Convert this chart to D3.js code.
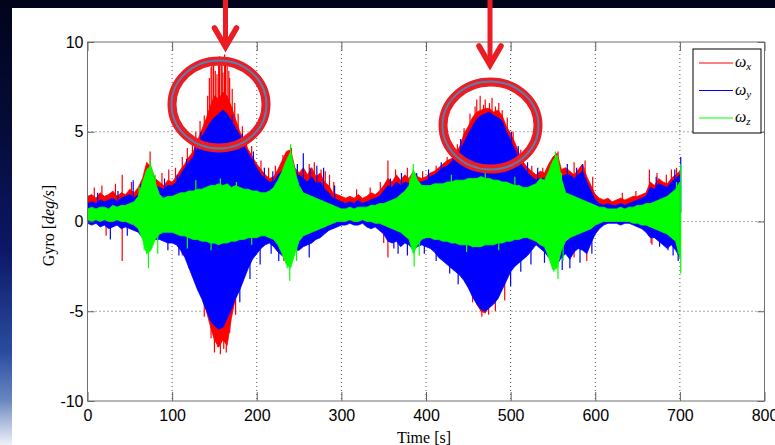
<!DOCTYPE html>
<html>
<head>
<meta charset="utf-8">
<script src="https://cdn.jsdelivr.net/npm/d3@7"></script>
<style>
  body { margin: 0; background: #fff; }
  svg { display: block; }
  .tick text { font-family: "Liberation Sans", Arial, sans-serif; font-size: 16px; fill: #000; }
  .tick line { stroke: #606060; }
</style>
</head>
<body>
<svg id="chart" width="775" height="445"></svg>
<script>
// envelope of each gyro channel, sampled every 5 s from t = 0 to 700 s (deg/s)
const sampleStep = 5;

const wxHigh = [
  1.4, 1.5, 1.3, 1.6, 1.4, 1.5, 1.7, 1.4, 1.6, 1.5,
  1.8, 1.6, 1.9, 2.4, 3.3, 3.0, 2.4, 2.2, 2.0, 2.3,
  2.2, 2.5, 2.9, 3.2, 3.6, 3.9, 4.5, 5.1, 5.7, 6.4,
  7.0, 6.8, 7.2, 7.0, 6.4, 5.7, 5.0, 4.5, 4.0, 3.6,
  3.2, 2.9, 2.6, 2.4, 2.5, 2.9, 3.4, 3.9, 4.0, 3.0,
  2.7, 3.0, 2.6, 3.0, 2.5, 2.7, 2.2, 2.0, 1.6, 1.5,
  1.4, 1.3, 1.4, 1.3, 1.5, 1.3, 1.4, 1.6, 1.5, 1.7,
  2.0, 2.4, 2.2, 2.6, 2.3, 2.6, 2.4, 2.8, 2.5, 2.4,
  2.5, 2.7, 2.8, 3.0, 3.2, 3.4, 3.5, 3.8, 4.2, 4.9,
  5.3, 5.8, 6.1, 6.2, 6.3, 6.3, 6.1, 6.2, 5.9, 5.3,
  4.9, 4.4, 3.8, 3.3, 3.0, 2.8, 2.6, 2.8, 2.7, 3.2,
  3.6, 3.8, 2.9, 3.0, 2.8, 2.6, 2.9, 3.2, 2.5, 2.0,
  1.5, 1.3, 1.2, 1.3, 1.1, 1.2, 1.3, 1.2, 1.3, 1.4,
  1.4, 1.5, 1.6, 2.2, 2.0, 2.4, 2.2, 2.1, 2.4, 2.6,
  2.8
];
const wxLow = [
  0.0, -0.1, 0.0, -0.2, -0.1, -0.3, -0.2, -0.1, -0.3, -0.2,
  -0.3, -0.4, -0.5, -0.8, -1.1, -1.0, -0.9, -0.9, -1.0, -1.0,
  -1.1, -1.2, -1.4, -1.8, -2.4, -3.0, -3.6, -4.2, -4.9, -5.8,
  -6.6, -7.0, -6.6, -6.9, -5.4, -4.2, -3.6, -3.0, -2.4, -1.9,
  -1.6, -1.3, -1.2, -1.1, -1.2, -1.5, -1.7, -1.9, -1.6, -1.4,
  -1.4, -1.2, -1.1, -1.0, -0.9, -0.8, -0.6, -0.4, -0.3, -0.2,
  -0.1, -0.1, 0.0, -0.1, -0.1, 0.0, -0.2, -0.3, -0.2, -0.4,
  -0.6, -1.0, -1.1, -1.0, -1.2, -1.1, -1.2, -1.4, -1.2, -1.2,
  -1.3, -1.4, -1.6, -1.8, -2.0, -2.2, -2.4, -2.6, -2.8, -3.1,
  -3.5, -4.0, -4.6, -5.0, -5.1, -4.7, -4.4, -4.1, -3.6, -3.1,
  -2.6, -2.3, -2.1, -1.9, -1.7, -1.5, -1.2, -1.4, -1.6, -1.8,
  -2.0, -2.2, -1.8, -1.7, -1.9, -1.6, -1.4, -1.5, -1.7, -1.1,
  -0.6, -0.3, -0.1, 0.0, 0.0, 0.0, -0.1, 0.0, 0.0, -0.1,
  -0.2, -0.3, -0.5, -0.8, -0.8, -1.0, -1.1, -1.3, -1.2, -1.4,
  -1.8
];
const wyHigh = [
  1.0, 1.1, 1.0, 1.2, 1.1, 1.2, 1.3, 1.1, 1.3, 1.4,
  1.5, 1.3, 1.5, 2.0, 2.6, 2.4, 2.0, 1.9, 1.8, 2.0,
  2.0, 2.2, 2.6, 3.0, 3.3, 3.6, 4.1, 4.7, 5.1, 5.5,
  5.8, 6.0, 6.2, 6.0, 5.6, 5.2, 4.8, 4.2, 3.8, 3.4,
  3.0, 2.6, 2.4, 2.2, 2.2, 2.6, 2.8, 3.0, 2.8, 2.4,
  2.6, 2.4, 2.2, 2.5, 2.1, 2.2, 1.8, 1.6, 1.3, 1.2,
  1.1, 1.0, 1.1, 1.0, 1.2, 1.0, 1.1, 1.2, 1.3, 1.4,
  1.7, 2.0, 1.9, 2.2, 2.0, 2.2, 2.1, 2.4, 2.2, 2.2,
  2.3, 2.5, 2.6, 2.8, 3.0, 3.1, 3.3, 3.6, 3.9, 4.4,
  4.9, 5.3, 5.7, 5.9, 6.0, 6.1, 5.9, 5.8, 5.6, 5.0,
  4.5, 4.0, 3.4, 3.0, 2.7, 2.5, 2.3, 2.4, 2.4, 2.6,
  2.8, 2.9, 2.5, 2.6, 2.6, 2.4, 2.6, 2.8, 2.2, 1.7,
  1.2, 1.0, 0.9, 1.0, 0.9, 0.9, 1.0, 0.9, 1.0, 1.1,
  1.2, 1.3, 1.4, 1.9, 1.8, 2.1, 2.0, 1.9, 2.2, 2.4,
  2.6
];
const wyLow = [
  -0.1, -0.2, -0.1, -0.3, -0.2, -0.4, -0.3, -0.2, -0.4, -0.3,
  -0.4, -0.5, -0.6, -0.9, -1.3, -1.2, -1.0, -1.0, -1.1, -1.2,
  -1.2, -1.3, -1.6, -2.0, -2.6, -3.2, -3.8, -4.3, -4.9, -5.5,
  -5.8, -6.0, -5.9, -5.4, -4.9, -4.3, -3.8, -3.2, -2.6, -2.1,
  -1.8, -1.5, -1.3, -1.2, -1.4, -1.7, -1.9, -2.1, -1.8, -1.6,
  -1.6, -1.4, -1.3, -1.2, -1.0, -0.9, -0.7, -0.5, -0.4, -0.3,
  -0.2, -0.2, -0.1, -0.2, -0.2, -0.1, -0.3, -0.4, -0.3, -0.5,
  -0.7, -1.1, -1.2, -1.1, -1.4, -1.2, -1.3, -1.6, -1.4, -1.3,
  -1.4, -1.5, -1.7, -2.0, -2.2, -2.4, -2.6, -2.8, -3.0, -3.3,
  -3.7, -4.2, -4.6, -4.9, -5.0, -4.8, -4.6, -4.3, -3.8, -3.3,
  -2.8, -2.5, -2.3, -2.1, -1.9, -1.6, -1.3, -1.5, -1.7, -2.0,
  -2.2, -2.4, -2.0, -1.8, -2.1, -1.7, -1.5, -1.6, -1.8, -1.2,
  -0.7, -0.4, -0.2, -0.1, -0.1, -0.1, -0.2, -0.1, -0.1, -0.2,
  -0.3, -0.4, -0.6, -0.9, -0.9, -1.1, -1.3, -1.5, -1.3, -1.6,
  -2.0
];
const wzHigh = [
  0.7, 0.8, 0.7, 0.8, 0.8, 0.7, 0.9, 0.8, 0.9, 0.9,
  1.0, 1.1, 1.4, 2.2, 2.9, 3.1, 2.2, 1.5, 1.3, 1.4,
  1.4, 1.5, 1.6, 1.6, 1.7, 1.7, 1.8, 1.8, 1.9, 2.0,
  2.0, 2.1, 2.0, 2.1, 1.9, 2.0, 1.9, 1.8, 1.8, 1.7,
  1.7, 1.6, 1.6, 1.7, 1.9, 2.3, 2.8, 3.4, 3.9, 2.8,
  2.0, 1.6, 1.5, 1.4, 1.3, 1.2, 1.1, 1.0, 0.9, 0.8,
  0.7, 0.7, 0.8, 0.7, 0.8, 0.8, 0.8, 0.9, 0.9, 1.0,
  1.0, 1.1, 1.2, 1.3, 1.5, 1.7, 2.0, 2.9, 2.3, 2.0,
  2.0, 2.0, 2.1, 2.1, 2.1, 2.2, 2.2, 2.3, 2.3, 2.3,
  2.4, 2.4, 2.4, 2.5, 2.4, 2.4, 2.3, 2.3, 2.2, 2.2,
  2.1, 2.0, 2.0, 1.9, 1.9, 2.0, 2.1, 2.4, 2.3, 2.8,
  3.4, 3.7, 2.4, 1.6, 1.5, 1.4, 1.3, 1.2, 1.1, 1.0,
  0.9, 0.8, 0.8, 0.7, 0.7, 0.7, 0.8, 0.7, 0.8, 0.8,
  0.9, 0.9, 1.0, 1.0, 1.1, 1.2, 1.3, 1.4, 1.6, 1.8,
  2.2
];
const wzLow = [
  0.1, 0.0, 0.1, 0.0, 0.1, 0.0, 0.0, 0.1, 0.0, 0.0,
  -0.1, -0.2, -0.4, -1.0, -1.8, -1.6, -1.0, -0.7, -0.6, -0.6,
  -0.6, -0.7, -0.8, -0.8, -0.9, -1.0, -1.0, -1.1, -1.1, -1.2,
  -1.2, -1.3, -1.2, -1.2, -1.1, -1.1, -1.0, -1.0, -0.9, -0.9,
  -0.9, -0.8, -0.8, -0.9, -1.0, -1.3, -1.8, -2.4, -2.6, -1.8,
  -1.1, -0.8, -0.7, -0.6, -0.5, -0.4, -0.3, -0.2, -0.1, 0.0,
  0.0, 0.0, 0.1, 0.0, 0.0, 0.1, 0.0, 0.0, -0.1, -0.1,
  -0.2, -0.3, -0.4, -0.5, -0.6, -0.8, -1.0, -1.8, -1.3, -1.0,
  -0.9, -0.9, -1.0, -1.0, -1.1, -1.1, -1.2, -1.2, -1.3, -1.3,
  -1.3, -1.4, -1.4, -1.4, -1.3, -1.3, -1.3, -1.2, -1.2, -1.1,
  -1.1, -1.0, -1.0, -0.9, -0.9, -1.0, -1.1, -1.3, -1.4, -2.0,
  -2.7, -2.6, -1.6, -1.1, -0.9, -0.8, -0.7, -0.6, -0.5, -0.4,
  -0.2, -0.1, 0.0, 0.0, 0.0, 0.0, 0.0, 0.0, 0.0, -0.1,
  -0.1, -0.2, -0.2, -0.3, -0.4, -0.5, -0.6, -0.7, -0.9, -1.1,
  -2.0
];

// single tall samples sticking out of the envelope: [time s, value deg/s]
const wxSpikes = [
  [8, 1.9], [17, 2.0], [33, 2.1], [41, 2.6], [52, 2.2], [74, 3.9], [88, 2.7], [96, 2.9],
  [104, 3.0], [112, 3.6], [118, 4.1], [124, 4.6], [128, 5.0], [133, 5.6], [138, 5.9],
  [142, 7.0], [144, 8.0], [146, 8.6], [147, 9.0], [149, 9.1], [151, 8.4], [153, 8.2],
  [155, 8.8], [156, 9.2], [158, 9.0], [159, 8.7], [160, 8.3], [162, 9.3], [163, 9.1],
  [165, 8.9], [167, 8.4], [168, 8.0], [171, 7.4], [174, 6.6], [178, 6.0], [183, 5.3],
  [188, 4.8], [194, 4.2], [205, 3.4], [214, 3.0], [222, 3.1], [231, 3.7], [241, 4.1],
  [262, 3.2], [268, 3.3], [276, 2.9], [281, 2.8], [286, 2.6], [291, 2.2], [318, 1.8],
  [334, 1.9], [346, 2.2], [355, 3.4], [364, 2.9], [378, 3.0], [396, 2.8], [412, 3.1],
  [425, 3.6], [437, 4.3], [445, 5.2], [452, 6.0], [458, 6.4], [460, 6.8], [464, 7.0],
  [468, 6.5], [470, 6.8], [475, 6.6], [478, 6.9], [482, 6.4], [486, 6.6], [490, 6.2],
  [496, 5.8], [503, 5.0], [512, 4.0], [525, 3.1], [538, 3.0], [556, 3.9], [575, 3.3],
  [588, 3.4], [597, 2.5], [632, 1.6], [648, 1.7], [664, 2.9], [673, 2.7], [684, 2.6],
  [690, 2.9], [696, 3.0],
  [22, -0.8], [41, -2.2], [112, -1.9], [138, -5.3], [146, -6.5], [150, -7.3],
  [154, -7.0], [157, -7.4], [161, -7.1], [164, -7.3], [168, -6.2], [175, -5.2],
  [232, -2.2], [350, -1.2], [355, -2.0], [455, -4.5], [466, -5.3], [474, -5.2],
  [482, -5.0], [493, -4.4], [575, -2.0], [590, -2.2], [666, -1.2], [667, -1.3]
];
const wySpikes = [
  [12, 1.6], [36, 1.7], [54, 2.3], [63, 2.1], [91, 2.4], [106, 2.6], [117, 3.5],
  [127, 4.3], [134, 5.0], [171, 5.9], [183, 4.9], [196, 3.9], [209, 3.0], [219, 2.8],
  [248, 3.2], [255, 3.8], [263, 3.0], [271, 3.1], [279, 3.0], [292, 2.0], [358, 2.4],
  [371, 2.7], [389, 2.7], [403, 2.9], [418, 3.3], [432, 3.9], [441, 4.6], [501, 5.0],
  [509, 4.2], [520, 3.3], [532, 3.0], [567, 3.2], [578, 3.0], [585, 3.2], [672, 2.5],
  [694, 2.9], [701, 3.6],
  [27, -1.0], [47, -0.8], [95, -1.6], [108, -1.9], [120, -2.6], [128, -3.4],
  [180, -4.5], [192, -3.2], [204, -2.4], [217, -1.8], [226, -2.2], [262, -2.0],
  [362, -1.5], [367, -1.8], [378, -1.9], [398, -1.8], [412, -2.2], [428, -2.9],
  [438, -3.5], [500, -3.6], [512, -2.8], [524, -2.4], [540, -2.3], [561, -2.7],
  [570, -2.6], [582, -2.3], [596, -1.8], [676, -1.4], [686, -1.6], [692, -1.9],
  [698, -2.2]
];
const wzSpikes = [
  [61, 1.9], [74, 3.4], [80, 2.6], [128, 2.3], [157, 2.4], [176, 2.2], [233, 3.2],
  [240, 4.3], [245, 3.0], [381, 2.4], [385, 3.2], [430, 2.6], [470, 2.8], [505, 2.5],
  [548, 3.2], [553, 3.9], [560, 2.7], [696, 2.2], [701, 3.2],
  [67, -1.6], [72, -2.6], [83, -1.8], [118, -1.5], [146, -1.6], [194, -1.3],
  [236, -2.6], [239, -3.3], [247, -2.2], [386, -2.5], [392, -1.9], [448, -1.7],
  [486, -1.6], [551, -2.8], [556, -3.2], [562, -2.2], [698, -1.8], [701, -2.9]
];

const seriesNames = ['\u03c9x', '\u03c9y', '\u03c9z'];
const seriesSubs = ['x', 'y', 'z'];
const seriesColors = ['#ff0000', '#0000ff', '#00ff00'];

const xTicks = [0, 100, 200, 300, 400, 500, 600, 700, 800];
const yTicks = [-10, -5, 0, 5, 10];

// red arrow annotations: [x of shaft, tip y], circles: [cx, cy, rx, ry]
const arrowMarks = [[225.5, 47], [490, 65]];
const circleMarks = [[219, 104.5, 47, 43.5], [490.5, 125.5, 47.5, 43.5]];

const svg = d3.select('#chart');
const W = 775, H = 445;

// slide background
const defs = svg.append('defs');
const grad = defs.append('linearGradient').attr('id', 'slideBg')
  .attr('x1', 0).attr('y1', 0).attr('x2', 0).attr('y2', 1);
[[0, '#01041a'], [0.3, '#060c3a'], [0.56, '#0c1766'], [0.79, '#2a4c9e'],
 [0.9, '#6a86c2'], [0.94, '#a3b3d6'], [1, '#eef1f8']].forEach(s => {
  grad.append('stop').attr('offset', s[0]).attr('stop-color', s[1]);
});
svg.append('rect').attr('width', W).attr('height', H).attr('fill', 'url(#slideBg)');
svg.append('rect').attr('x', 12).attr('y', 8).attr('width', W - 12).attr('height', H - 8).attr('fill', '#fff');

const x = d3.scaleLinear().domain([0, 800]).range([87.5, 764.5]);
const y = d3.scaleLinear().domain([-10, 10]).range([401, 42]);

defs.append('clipPath').attr('id', 'plotClip')
  .append('rect')
  .attr('x', x(0)).attr('y', y(10))
  .attr('width', x(800) - x(0)).attr('height', y(-10) - y(10));

// dotted grid
const grid = svg.append('g');
grid.selectAll('line.gx').data(xTicks.slice(1, -1)).enter().append('line')
  .attr('x1', d => x(d)).attr('x2', d => x(d))
  .attr('y1', y(10)).attr('y2', y(-10));
grid.selectAll('line.gy').data(yTicks.slice(1, -1)).enter().append('line')
  .attr('x1', x(0)).attr('x2', x(800))
  .attr('y1', d => y(d)).attr('y2', d => y(d));
grid.selectAll('line')
  .attr('stroke', '#555').attr('stroke-width', 1).attr('stroke-dasharray', '1,3');

// signal envelopes
const envelopes = [[wxHigh, wxLow], [wyHigh, wyLow], [wzHigh, wzLow]];
const spikes = [wxSpikes, wySpikes, wzSpikes];

const area = d3.area()
  .x(d => x(d.t))
  .y0(d => y(d.lo))
  .y1(d => y(d.hi));

const plot = svg.append('g').attr('clip-path', 'url(#plotClip)');

envelopes.forEach((pair, i) => {
  const rows = pair[0].map((hi, k) => ({ t: k * sampleStep, hi: hi, lo: pair[1][k] }));
  const g = plot.append('g');
  g.append('path')
    .datum(rows)
    .attr('d', area)
    .attr('fill', seriesColors[i])
    .attr('stroke', seriesColors[i])
    .attr('stroke-width', 0.8);
  g.selectAll('line').data(spikes[i]).enter().append('line')
    .attr('x1', d => x(d[0])).attr('x2', d => x(d[0]))
    .attr('y1', y(0.5)).attr('y2', d => y(d[1]))
    .attr('stroke', seriesColors[i]).attr('stroke-width', 1.2);
});

// axes, MATLAB style: ticks inward on all four sides
const fmt = d => String(d);
svg.append('g')
  .attr('transform', `translate(0,${y(-10)})`)
  .call(d3.axisBottom(x).tickValues(xTicks).tickFormat(fmt).tickSizeInner(-9).tickSizeOuter(0).tickPadding(9))
  .call(g => g.select('.domain').remove());
svg.append('g')
  .attr('transform', `translate(0,${y(10)})`)
  .call(d3.axisTop(x).tickValues(xTicks).tickFormat('').tickSizeInner(-9).tickSizeOuter(0))
  .call(g => g.select('.domain').remove());
svg.append('g')
  .attr('transform', `translate(${x(0)},0)`)
  .call(d3.axisLeft(y).tickValues(yTicks).tickFormat(fmt).tickSizeInner(-7).tickSizeOuter(0).tickPadding(4))
  .call(g => g.select('.domain').remove());
svg.append('g')
  .attr('transform', `translate(${x(800)},0)`)
  .call(d3.axisRight(y).tickValues(yTicks).tickFormat('').tickSizeInner(-7).tickSizeOuter(0))
  .call(g => g.select('.domain').remove());

svg.append('rect')
  .attr('x', x(0)).attr('y', y(10))
  .attr('width', x(800) - x(0)).attr('height', y(-10) - y(10))
  .attr('fill', 'none').attr('stroke', '#707070').attr('stroke-width', 1);

// axis titles
svg.append('text')
  .attr('x', (x(0) + x(800)) / 2 - 2).attr('y', 443)
  .attr('text-anchor', 'middle')
  .style('font-family', '"Liberation Serif", "DejaVu Serif", serif')
  .style('font-size', '16px')
  .text('Time [s]');

const yTitle = svg.append('text')
  .attr('transform', `translate(54,${(y(10) + y(-10)) / 2 + 4}) rotate(-90)`)
  .attr('text-anchor', 'middle')
  .style('font-family', '"Liberation Serif", "DejaVu Serif", serif')
  .style('font-size', '16px');
yTitle.append('tspan').text('Gyro [');
yTitle.append('tspan').style('font-style', 'italic').text('deg/s');
yTitle.append('tspan').text(']');

// legend
const legend = svg.append('g').attr('transform', 'translate(693,49)');
legend.append('rect')
  .attr('width', 68).attr('height', 84)
  .attr('fill', '#fff').attr('stroke', '#000').attr('stroke-width', 1);
seriesNames.forEach((name, i) => {
  const ly = 14 + i * 27.5;
  legend.append('line')
    .attr('x1', 6).attr('x2', 40).attr('y1', ly).attr('y2', ly)
    .attr('stroke', seriesColors[i]).attr('stroke-width', 1);
  const t = legend.append('text')
    .attr('x', 42).attr('y', ly + 4)
    .style('font-family', '"Liberation Serif", "DejaVu Serif", serif')
    .style('font-style', 'italic')
    .style('font-size', '16px');
  t.append('tspan').text('\u03c9');
  t.append('tspan').attr('dy', 3).style('font-size', '11px').text(seriesSubs[i]);
});

// annotations: red rings and arrows
const notes = svg.append('g');
circleMarks.forEach(c => {
  notes.append('ellipse')
    .attr('cx', c[0]).attr('cy', c[1]).attr('rx', c[2]).attr('ry', c[3])
    .attr('fill', 'none').attr('stroke', '#ec1c24').attr('stroke-width', 9);
  notes.append('ellipse')
    .attr('cx', c[0]).attr('cy', c[1]).attr('rx', c[2] + 0.5).attr('ry', c[3] + 0.5)
    .attr('fill', 'none').attr('stroke', '#5b7fa8').attr('stroke-width', 2);
});
arrowMarks.forEach(a => {
  notes.append('line')
    .attr('x1', a[0]).attr('x2', a[0]).attr('y1', 0).attr('y2', a[1] - 4)
    .attr('stroke', '#ec1c24').attr('stroke-width', 5);
  notes.append('polyline')
    .attr('points', `${a[0] - 11},${a[1] - 19} ${a[0]},${a[1]} ${a[0] + 11},${a[1] - 19}`)
    .attr('fill', 'none').attr('stroke', '#ec1c24').attr('stroke-width', 5.5)
    .attr('stroke-linejoin', 'miter').attr('stroke-linecap', 'round');
});
</script>
</body>
</html>
